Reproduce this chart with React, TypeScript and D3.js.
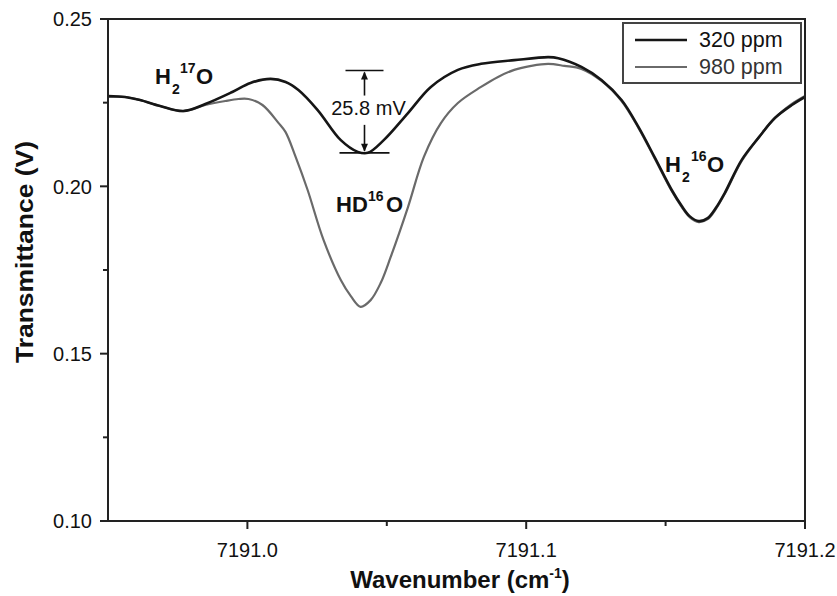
import React from 'react';
import * as d3 from 'd3';

const seriesNames = ['320 ppm', '980 ppm'];

const wn320 = [7190.95, 7190.9561, 7190.9615, 7190.9687, 7190.977, 7190.9849, 7190.9946, 7191.0011, 7191.0083, 7191.0137, 7191.0183, 7191.0252, 7191.0335, 7191.0396, 7191.0432, 7191.0489, 7191.0576, 7191.0658, 7191.0755, 7191.0838, 7191.0957, 7191.1079, 7191.1115, 7191.1198, 7191.127, 7191.1342, 7191.1403, 7191.146, 7191.1522, 7191.1558, 7191.1586, 7191.1619, 7191.1651, 7191.168, 7191.1712, 7191.1773, 7191.1835, 7191.1892, 7191.1953, 7191.2];
const t320 = [0.227, 0.2267, 0.2258, 0.224, 0.2225, 0.2246, 0.2282, 0.2309, 0.2321, 0.2312, 0.2288, 0.2228, 0.2138, 0.2103, 0.21, 0.2138, 0.2219, 0.2297, 0.2348, 0.2366, 0.2377, 0.2386, 0.2383, 0.2357, 0.2318, 0.2258, 0.2177, 0.2088, 0.1989, 0.1941, 0.1911, 0.1896, 0.1905, 0.1935, 0.198, 0.2079, 0.2147, 0.2204, 0.2243, 0.2267];

const wn980 = [7190.95, 7190.9561, 7190.9615, 7190.9687, 7190.977, 7190.9849, 7190.9921, 7190.9968, 7191.0004, 7191.0054, 7191.0112, 7191.0137, 7191.0173, 7191.0216, 7191.0273, 7191.0335, 7191.0371, 7191.0406, 7191.0442, 7191.0478, 7191.0514, 7191.0576, 7191.0633, 7191.0694, 7191.0755, 7191.0838, 7191.0899, 7191.0957, 7191.1018, 7191.1079, 7191.1137, 7191.1198, 7191.127, 7191.1342, 7191.1403, 7191.146, 7191.1522, 7191.1558, 7191.1586, 7191.1619, 7191.1651, 7191.168, 7191.1712, 7191.1773, 7191.1835, 7191.1892, 7191.1953, 7191.2];
const t980 = [0.2267, 0.2267, 0.2258, 0.224, 0.2225, 0.2243, 0.2255, 0.2261, 0.2261, 0.2243, 0.2189, 0.2162, 0.2088, 0.1989, 0.184, 0.172, 0.1672, 0.164, 0.166, 0.1711, 0.1789, 0.1938, 0.2088, 0.2189, 0.2249, 0.2297, 0.2327, 0.2348, 0.236, 0.2366, 0.236, 0.2351, 0.2315, 0.2255, 0.2174, 0.2085, 0.1986, 0.1938, 0.1908, 0.1893, 0.1902, 0.1932, 0.1977, 0.2076, 0.2147, 0.2204, 0.2246, 0.227];

const xTicks = [7191.0, 7191.1, 7191.2];
const xMinorTicks = [7191.05, 7191.15];
const yTicks = [0.1, 0.15, 0.2, 0.25];
const yMinorTicks = [0.125, 0.175, 0.225];

const dipWn = 7191.042;
const dipTop = 0.2346;
const dipBottom = 0.21;
const dipLabel = '25.8 mV';

const W = 837;
const H = 596;
const M = { left: 108, right: 805, top: 19, bottom: 521 };
const FONT = "'Liberation Sans', Arial, Helvetica, sans-serif";

export default function App() {
  const x = d3.scaleLinear().domain([7190.95, 7191.2]).range([M.left, M.right]);
  const y = d3.scaleLinear().domain([0.1, 0.25]).range([M.bottom, M.top]);
  const line = d3
    .line<[number, number]>()
    .x((d) => x(d[0]))
    .y((d) => y(d[1]))
    .curve(d3.curveCatmullRom.alpha(0.5));
  const d320 = line(wn320.map((w, i) => [w, t320[i]] as [number, number])) || '';
  const d980 = line(wn980.map((w, i) => [w, t980[i]] as [number, number])) || '';

  const ax = x(dipWn);
  const yTop = y(dipTop);
  const yBot = y(dipBottom);

  return (
    <svg
      width={W}
      height={H}
      style={{ position: 'absolute', left: 0, top: 0, background: '#fff' }}
      fontFamily={FONT}
    >
      <defs>
        <clipPath id="plotClip">
          <rect x={M.left} y={M.top} width={M.right - M.left} height={M.bottom - M.top} />
        </clipPath>
      </defs>
      <rect x={0} y={0} width={W} height={H} fill="#fff" />

      {/* curves */}
      <g clipPath="url(#plotClip)">
        <path d={d980} fill="none" stroke="#6a6a6a" strokeWidth={2.2} />
        <path d={d320} fill="none" stroke="#161616" strokeWidth={2.6} />
      </g>

      {/* frame */}
      <rect
        x={M.left}
        y={M.top}
        width={M.right - M.left}
        height={M.bottom - M.top}
        fill="none"
        stroke="#222"
        strokeWidth={2}
      />

      {/* y ticks */}
      {yTicks.map((t) => (
        <g key={'y' + t}>
          <line x1={M.left - 8} x2={M.left} y1={y(t)} y2={y(t)} stroke="#222" strokeWidth={2} />
          <text x={M.left - 16} y={y(t)} dy="0.36em" textAnchor="end" fontSize={20} fill="#111">
            {t.toFixed(2)}
          </text>
        </g>
      ))}
      {yMinorTicks.map((t) => (
        <line key={'ym' + t} x1={M.left - 5} x2={M.left} y1={y(t)} y2={y(t)} stroke="#222" strokeWidth={2} />
      ))}

      {/* x ticks */}
      {xTicks.map((t) => (
        <g key={'x' + t}>
          <line x1={x(t)} x2={x(t)} y1={M.bottom} y2={M.bottom + 8} stroke="#222" strokeWidth={2} />
          <text x={x(t)} y={M.bottom + 36} textAnchor="middle" fontSize={20} fill="#111">
            {t.toFixed(1)}
          </text>
        </g>
      ))}
      {xMinorTicks.map((t) => (
        <line key={'xm' + t} x1={x(t)} x2={x(t)} y1={M.bottom} y2={M.bottom + 5} stroke="#222" strokeWidth={2} />
      ))}

      {/* axis titles */}
      <text
        x={460}
        y={588}
        textAnchor="middle"
        fontSize={24}
        fontWeight="bold"
        fill="#111"
      >
        Wavenumber (cm
        <tspan fontSize={14} dy={-10}>-1</tspan>
        <tspan dy={10}>)</tspan>
      </text>
      <text
        transform={`translate(33, 252) rotate(-90)`}
        textAnchor="middle"
        fontSize={24}
        fontWeight="bold"
        fill="#111"
        textLength={222}
        lengthAdjust="spacingAndGlyphs"
      >
        Transmittance (V)
      </text>

      {/* legend */}
      <g>
        <rect x={623} y={23} width={178} height={60} fill="#fff" stroke="#444" strokeWidth={2} />
        <line x1={635} x2={687} y1={40} y2={40} stroke="#161616" strokeWidth={2.6} />
        <text x={699} y={47} fontSize={21.5} fill="#111">{seriesNames[0]}</text>
        <line x1={635} x2={687} y1={67} y2={67} stroke="#6a6a6a" strokeWidth={2.2} />
        <text x={699} y={74} fontSize={21.5} fill="#333">{seriesNames[1]}</text>
      </g>

      {/* 25.8 mV annotation */}
      <g stroke="#111" strokeWidth={1.6}>
        <line x1={ax - 19} x2={ax + 19} y1={yTop} y2={yTop} />
        <line x1={ax - 25} x2={ax + 25} y1={yBot} y2={yBot} />
        <line x1={ax} x2={ax} y1={yTop + 2} y2={yTop + 25} />
        <line x1={ax} x2={ax} y1={yBot - 28} y2={yBot - 2} />
      </g>
      <path d={`M${ax},${yTop + 1} l-3.5,8 l7,0 z`} fill="#111" />
      <path d={`M${ax},${yBot - 1} l-3.5,-8 l7,0 z`} fill="#111" />
      <text x={ax + 4} y={yTop + 44} textAnchor="middle" fontSize={20} fill="#111">
        {dipLabel}
      </text>

      {/* species labels */}
      <g fontWeight="bold" fill="#111">
        <text x={155} y={84} fontSize={22}>H</text>
        <text x={172} y={94} fontSize={14}>2</text>
        <text x={180} y={73} fontSize={14}>17</text>
        <text x={196} y={84} fontSize={22}>O</text>

        <text x={336} y={212} fontSize={22}>HD</text>
        <text x={368} y={201} fontSize={14}>16</text>
        <text x={386} y={212} fontSize={22}>O</text>

        <text x={665} y={172} fontSize={22}>H</text>
        <text x={682} y={182} fontSize={14}>2</text>
        <text x={691} y={161} fontSize={14}>16</text>
        <text x={707} y={172} fontSize={22}>O</text>
      </g>
    </svg>
  );
}
